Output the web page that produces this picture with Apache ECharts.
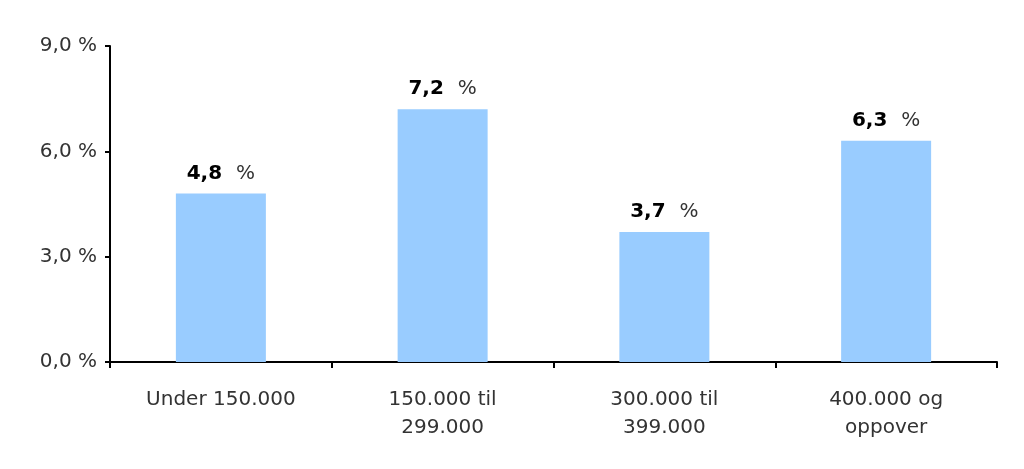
<!DOCTYPE html>
<html>
<head>
<meta charset="utf-8">
<script src="https://cdn.jsdelivr.net/npm/echarts@6/dist/echarts.min.js"></script>
<style>
html, body { margin: 0; padding: 0; background: #fff; }
#chart { width: 1024px; height: 469px; }
</style>
</head>
<body>
<div id="chart"></div>
<script>
// inntektsgrupper og andel
var categories = ['Under 150.000', '150.000 til\n299.000', '300.000 til\n399.000', '400.000 og\noppover'];
var values = [4.8, 7.2, 3.7, 6.3];
var yTicks = [0, 3, 6, 9];

function fmt(v) {
	return v.toFixed(1).replace('.', ',');
}

var chart = echarts.init(document.getElementById('chart'));
chart.setOption({
	animation: false,
	textStyle: { fontFamily: 'DejaVu Sans' },
	grid: { left: 110, right: 27, top: 46, bottom: 107 },
	xAxis: {
		type: 'category',
		data: categories,
		axisLine: { lineStyle: { color: '#000', width: 2 } },
		axisTick: { show: true, length: 6, lineStyle: { color: '#000', width: 2 } },
		axisLabel: { color: '#333', fontSize: 20, margin: 24, lineHeight: 28 }
	},
	yAxis: {
		type: 'value',
		min: yTicks[0],
		max: yTicks[yTicks.length - 1],
		interval: 3,
		splitLine: { show: false },
		axisLine: { show: true, lineStyle: { color: '#000', width: 2 } },
		axisTick: { show: true, length: 5, lineStyle: { color: '#000', width: 2 } },
		axisLabel: {
			color: '#333', fontSize: 20, margin: 13,
			formatter: function (v) { return fmt(v) + ' %'; }
		}
	},
	series: [{
		type: 'bar',
		data: values,
		barWidth: 90,
		itemStyle: { color: '#99CCFF' },
		label: {
			show: true,
			position: 'top',
			distance: 10,
			formatter: function (p) { return '{b|' + fmt(p.value) + '}{g|}{n|%}'; },
			rich: {
				b: { fontSize: 20, fontWeight: 'bold', color: '#000' },
				g: { width: 14 },
				n: { fontSize: 20, color: '#333' }
			}
		}
	}]
});
</script>
</body>
</html>
